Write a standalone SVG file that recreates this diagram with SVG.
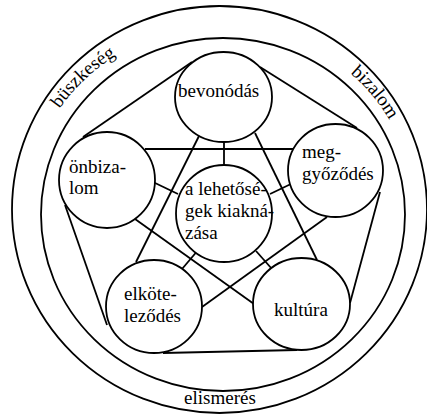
<svg xmlns="http://www.w3.org/2000/svg" width="427" height="414" viewBox="0 0 427 414">
<style>
.ln{stroke:#000;stroke-width:1.8;fill:none}
.nd{stroke:#000;stroke-width:1.8;fill:#fff}
</style>
<defs>
<path id="arcL" d="M 27.7 195.8 A 194 186 0 0 1 204.1 26.7"/>
<path id="arcR" d="M 259.7 29.7 A 194 186 0 0 1 414.9 216.9"/>
</defs>
<rect width="427" height="414" fill="#fff"/>
<g font-family="'Liberation Serif', 'Times New Roman', 'DejaVu Serif', serif" font-size="19" fill="#000">
<g id="rings">
<ellipse class="ln" cx="219.5" cy="209.5" rx="207.5" ry="203.5"/>
<ellipse class="ln" cx="223" cy="214.5" rx="182" ry="176.5"/>
<text><textPath href="#arcL" startOffset="50%" text-anchor="middle">büszkeség</textPath></text>
<text><textPath href="#arcR" startOffset="50%" text-anchor="middle">bizalom</textPath></text>
<text x="220" y="404" text-anchor="middle">elismerés</text>
</g>
<g id="connectors">
<line class="ln" x1="192" y1="62" x2="83" y2="137"/>
<line class="ln" x1="260" y1="67" x2="357" y2="128"/>
<line class="ln" x1="65" y1="205" x2="107" y2="325"/>
<line class="ln" x1="380" y1="192" x2="350" y2="303"/>
<line class="ln" x1="163" y1="353" x2="297" y2="350"/>
<line class="ln" x1="199" y1="136" x2="136" y2="262"/>
<line class="ln" x1="255" y1="133" x2="317" y2="260"/>
<line class="ln" x1="145" y1="149" x2="293" y2="149"/>
<line class="ln" x1="135" y1="219" x2="254" y2="304"/>
<line class="ln" x1="327" y1="217" x2="202" y2="307"/>
<line class="ln" x1="224" y1="135" x2="224" y2="165"/>
<line class="ln" x1="153" y1="182" x2="178" y2="194"/>
<line class="ln" x1="293" y1="183" x2="270" y2="194"/>
<line class="ln" x1="199" y1="249" x2="182" y2="269"/>
<line class="ln" x1="256" y1="251" x2="272" y2="269"/>
</g>
<g id="bevonodas">
<ellipse class="nd" cx="223.5" cy="97" rx="48.5" ry="45"/>
<text x="178" y="97">bevonódás</text>
</g>
<g id="onbizalom">
<ellipse class="nd" cx="107" cy="180" rx="48" ry="48"/>
<text x="69" y="173">önbiza-</text>
<text x="69" y="194">lom</text>
</g>
<g id="meggyozodes">
<ellipse class="nd" cx="335.5" cy="170.5" rx="47.5" ry="46.5"/>
<text x="302" y="158">meg-</text>
<text x="302" y="180">győződés</text>
</g>
<g id="lehetosegek">
<ellipse class="nd" cx="224" cy="213.5" rx="48" ry="48.5"/>
<text x="185" y="195">a lehetősé-</text>
<text x="185" y="217">gek kiakná-</text>
<text x="185" y="239">zása</text>
</g>
<g id="elkotelezodes">
<ellipse class="nd" cx="154" cy="306.5" rx="48" ry="46.5"/>
<text x="124" y="300">elköte-</text>
<text x="124" y="322">leződés</text>
</g>
<g id="kultura">
<ellipse class="nd" cx="301.5" cy="304" rx="48.5" ry="46"/>
<text x="274" y="316">kultúra</text>
</g>
</g>
</svg>
